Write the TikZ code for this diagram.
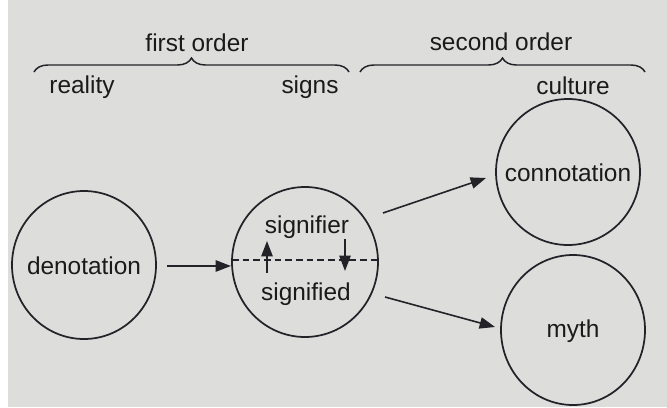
\documentclass[tikz,border=0pt]{standalone}
\usepackage{fontspec}
\setmainfont{Liberation Sans}
\usetikzlibrary{arrows.meta,decorations.pathreplacing}
\definecolor{paper}{HTML}{DDDDDB}
\definecolor{ink}{HTML}{222228}
\definecolor{txt}{HTML}{1A1A1A}
\tikzset{
  lbl/.style={text=txt,font=\fontsize{18.3}{21}\selectfont,inner sep=0pt},
  arr/.style={draw=ink,line width=1.2pt,-{Triangle[length=11.5pt,width=8.5pt]}},
  brc/.style={draw=ink,line width=1.1pt,decorate,decoration={brace,amplitude=10.5pt}},
  ring/.style={draw=ink,line width=1.3pt},
}
\begin{document}
\begin{tikzpicture}[x=0.75pt,y=-0.75pt]
\fill[paper] (0,0) rectangle (667,407);
\fill[white] (0,0) rectangle (8,407);
\useasboundingbox (0,0) rectangle (667,407);
% circles
\draw[ring] (84,265) ellipse [x radius=72,y radius=74];
\draw[ring] (305,262) ellipse [x radius=73,y radius=75];
\draw[ring] (568,172) ellipse [x radius=72,y radius=73];
\draw[ring] (573,330) ellipse [x radius=72,y radius=75];
% labels
\node[lbl] (den) at (84,266) {denotation};
\node[lbl] (sfr) at (307,227) {signifier};
\node[lbl] (sfd) at (306,294) {signified};
\node[lbl] (con) at (568,173) {connotation};
\node[lbl] (myth) at (573,331) {myth};
\node[lbl] (fo) at (197,43) {first order};
\node[lbl] (so) at (501,42) {second order};
\node[lbl] (real) at (82,87) {reality};
\node[lbl] (signs) at (310,87) {signs};
\node[lbl] (cult) at (573,86) {culture};
% braces
\coordinate (b1a) at (34,72);
\coordinate (b1b) at (349,72);
\coordinate (b2a) at (360,72);
\coordinate (b2b) at (645,72);
\draw[brc] (b1a) -- (b1b);
\draw[brc] (b2a) -- (b2b);
% dashed divider
\coordinate (dl) at (232,260);
\coordinate (dr) at (378,260);
\draw[draw=ink,line width=0.9pt,dash pattern=on 5pt off 3pt] (dl) -- (dr);
% arrows
\coordinate (a1s) at (167,266);
\coordinate (a1e) at (231,266);
\draw[arr] (a1s) -- (a1e);
\coordinate (ups) at (267,273);
\coordinate (upe) at (267,241);
\draw[arr] (ups) -- (upe);
\coordinate (dns) at (345,239);
\coordinate (dne) at (345,271);
\draw[arr] (dns) -- (dne);
\coordinate (c1s) at (383,213);
\coordinate (c1e) at (486,178);
\draw[arr] (c1s) -- (c1e);
\coordinate (c2s) at (385,297);
\coordinate (c2e) at (495,327);
\draw[arr] (c2s) -- (c2e);
\end{tikzpicture}
\end{document}
